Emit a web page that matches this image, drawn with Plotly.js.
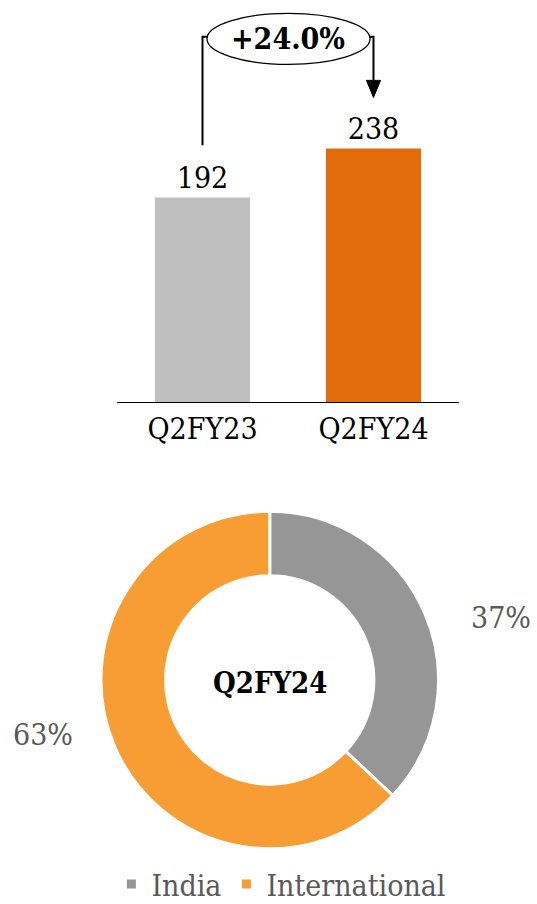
<!DOCTYPE html>
<html>
<head>
<meta charset="utf-8">
<script src="https://cdn.plot.ly/plotly-3.0.1.min.js"></script>
<style>
html,body{margin:0;padding:0;background:#fff;}
#chart{width:537px;height:904px;}
</style>
</head>
<body>
<div id="chart"></div>
<script>
// ---- data ----
var barCategories = ["Q2FY23", "Q2FY24"];
var barValues = [192, 238];
var barColors = ["#BFBFBF", "#E36C0A"];

var pieLabels = ["India", "International"];
var pieValues = [37, 63];
var pieColors = ["#969696", "#F79D34"];
var pieCenterText = "Q2FY24";

var FONT = "'DejaVu Serif Condensed', 'DejaVu Serif', 'Liberation Serif', serif";

var growth = (barValues[1] / barValues[0] - 1) * 100;
var growthText = "<b>" + (growth >= 0 ? "+" : "") + growth.toFixed(1) + "%</b>";

var pieTotal = pieValues.reduce(function (a, b) { return a + b; }, 0);
function pct(v) { return Math.round(v / pieTotal * 100) + "%"; }

var yMax = 370;
var lineTop = 343;      // y level of the connector (data units)
var leftBottom = 241;   // start of left connector above the first label
var arrowTip = 286;     // arrow tip above second label

var traces = [
  {
    type: "bar",
    x: barCategories,
    y: barValues,
    marker: { color: barColors },
    text: barValues.map(String),
    textposition: "outside",
    cliponaxis: false,
    textfont: { family: FONT, size: 30, color: "#000" },
    hoverinfo: "none",
    showlegend: false,
    xaxis: "x",
    yaxis: "y"
  },
  {
    type: "pie",
    labels: pieLabels,
    values: pieValues,
    marker: { colors: pieColors, line: { color: "#fff", width: 3 } },
    hole: 0.617,
    sort: false,
    direction: "clockwise",
    rotation: 0,
    textinfo: "none",
    hoverinfo: "none",
    domain: { x: [0.1880, 0.8166], y: [0.0610, 0.4346] }
  }
];

var layout = {
  width: 537,
  height: 904,
  margin: { l: 0, r: 0, t: 0, b: 0, autoexpand: false },
  paper_bgcolor: "#fff",
  plot_bgcolor: "rgba(0,0,0,0)",
  font: { family: FONT, color: "#000" },
  bargap: 0.444,
  xaxis: {
    domain: [0.2179, 0.8547],
    showline: true,
    linecolor: "#000",
    linewidth: 1.3,
    ticks: "",
    showgrid: false,
    zeroline: false,
    tickfont: { family: FONT, size: 30, color: "#000" },
    fixedrange: true
  },
  yaxis: {
    domain: [0.5553, 0.9912],
    range: [0, yMax],
    visible: false,
    fixedrange: true
  },
  showlegend: true,
  legend: {
    orientation: "h",
    x: 0.524,
    xanchor: "center",
    y: 0.022,
    yanchor: "middle",
    font: { family: FONT, size: 30, color: "#595959" },
    traceorder: "normal"
  },
  shapes: [
    { type: "circle", xref: "x", yref: "y", x0: 0.026, x1: 0.98, y0: 317, y1: 365,
      line: { color: "#000", width: 1.3 }, fillcolor: "rgba(0,0,0,0)" },
    { type: "path", xref: "x", yref: "y",
      path: "M 0," + leftBottom + " L 0," + lineTop + " L 0.03," + lineTop,
      line: { color: "#000", width: 2 } },
    { type: "path", xref: "x", yref: "y",
      path: "M 0.975," + lineTop + " L 1," + lineTop + " L 1," + (arrowTip + 15),
      line: { color: "#000", width: 2 } },
    { type: "path", xref: "x", yref: "y",
      path: "M 0.959," + (arrowTip + 16) + " L 1.041," + (arrowTip + 16) + " L 1," + arrowTip + " Z",
      fillcolor: "#000", line: { color: "#000", width: 1 } }
  ],
  annotations: [
    { xref: "x", yref: "y", x: 0.5, y: 341, text: growthText, showarrow: false,
      xanchor: "center", yanchor: "middle",
      font: { family: FONT, size: 30, color: "#000" } },
    { xref: "paper", yref: "paper", x: 269.7 / 537, y: (904 - 683) / 904, text: "<b>" + pieCenterText + "</b>",
      xanchor: "center", yanchor: "middle",
      showarrow: false, font: { family: FONT, size: 29, color: "#000" } },
    { xref: "paper", yref: "paper", x: 501 / 537, y: (904 - 617) / 904, text: pct(pieValues[0]),
      xanchor: "center", yanchor: "middle",
      showarrow: false, font: { family: FONT, size: 30, color: "#595959" } },
    { xref: "paper", yref: "paper", x: 43 / 537, y: (904 - 734) / 904, text: pct(pieValues[1]),
      xanchor: "center", yanchor: "middle",
      showarrow: false, font: { family: FONT, size: 30, color: "#595959" } }
  ]
};

Plotly.newPlot("chart", traces, layout, { displayModeBar: false, staticPlot: true });
</script>
</body>
</html>
